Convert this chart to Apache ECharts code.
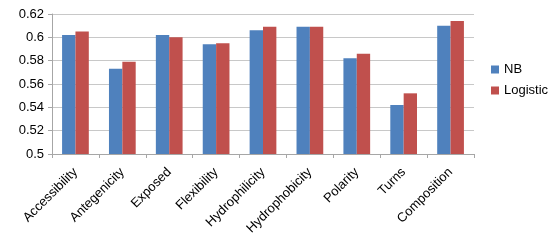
<!DOCTYPE html>
<html lang="en">

<head>
    <meta charset="UTF-8">
    <title>NB vs Logistic</title>
    <style>
        html, body { margin: 0; padding: 0; background: #fff; }
        .div { width: 557px; height: 247px; }
    </style>
</head>

<body>
    <div class="div"></div>
    <script src="https://cdn.jsdelivr.net/npm/echarts@6/dist/echarts.min.js"></script>
    <script>
        var categories = ['Accessibility', 'Antegenicity', 'Exposed', 'Flexibility', 'Hydrophilicity', 'Hydrophobicity', 'Polarity', 'Turns', 'Composition']
        var nbValues = [0.602, 0.573, 0.602, 0.594, 0.606, 0.609, 0.582, 0.542, 0.610]
        var logisticValues = [0.605, 0.579, 0.600, 0.595, 0.609, 0.609, 0.586, 0.552, 0.614]
        var yTicks = [0.5, 0.52, 0.54, 0.56, 0.58, 0.6, 0.62]

        var font = 'Liberation Sans'
        var myecharts = echarts.init(document.getElementsByClassName('div')[0])
        var option = {
            animation: false,
            textStyle: { fontFamily: font },
            legend: {
                orient: 'vertical',
                left: 486,
                top: 58,
                itemWidth: 8,
                itemHeight: 8,
                itemGap: 8,
                icon: 'rect',
                textStyle: { fontSize: 13, color: '#000', fontFamily: font },
                data: ['NB', 'Logistic']
            },
            grid: { left: 52, right: 83, top: 14, bottom: 93 },
            xAxis: {
                type: 'category',
                data: categories,
                axisLine: { lineStyle: { color: '#a6a6a6' } },
                axisTick: { show: true, length: 4, lineStyle: { color: '#a6a6a6' } },
                axisLabel: { rotate: 45, fontSize: 13, color: '#000', margin: 16, interval: 0 }
            },
            yAxis: {
                type: 'value',
                min: yTicks[0],
                max: yTicks[yTicks.length - 1],
                interval: 0.02,
                axisLine: { show: true, lineStyle: { color: '#a6a6a6' } },
                axisTick: { show: true, length: 4, lineStyle: { color: '#a6a6a6' } },
                splitLine: { lineStyle: { color: '#c8c8c8' } },
                axisLabel: {
                    fontSize: 13, color: '#000', margin: 8,
                    formatter: function (v) { return String(+v.toFixed(2)) }
                }
            },
            series: [
                {
                    name: 'NB',
                    type: 'bar',
                    data: nbValues,
                    barGap: 0,
                    barCategoryGap: '43%',
                    itemStyle: { color: '#4f81bd' }
                },
                {
                    name: 'Logistic',
                    type: 'bar',
                    data: logisticValues,
                    barGap: 0,
                    barCategoryGap: '43%',
                    itemStyle: { color: '#c0504d' }
                }
            ]
        }
        myecharts.setOption(option)
    </script>
</body>

</html>
